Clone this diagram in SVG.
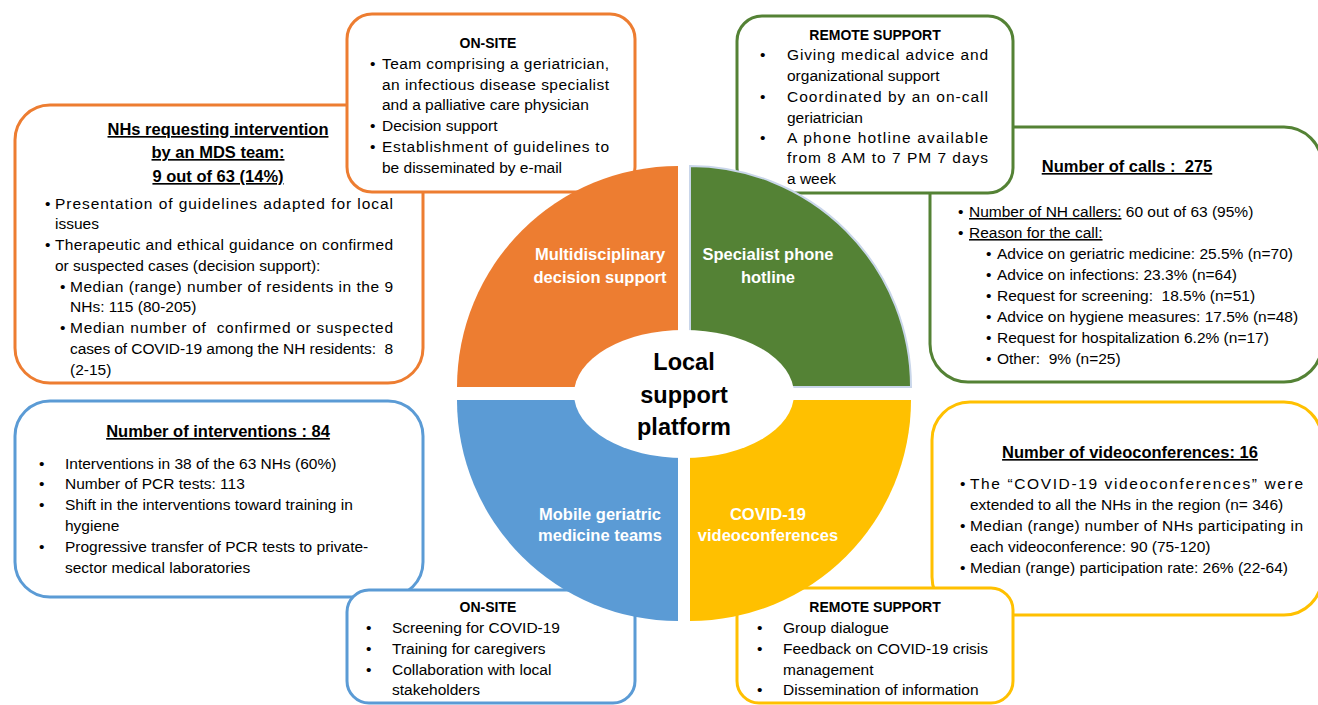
<svg xmlns="http://www.w3.org/2000/svg" width="1318" height="705" viewBox="0 0 1318 705">
<style>
text{font-family:"Liberation Sans",Arial,sans-serif;fill:#000;white-space:pre}
.b{font-size:15.5px}
.h{font-size:14px;font-weight:bold;text-anchor:middle}
.t{font-size:16.5px;font-weight:bold;text-anchor:middle;text-decoration:underline}
.q{font-size:16.5px;font-weight:bold;fill:#fff;text-anchor:middle}
.c{font-size:23.5px;font-weight:bold;text-anchor:middle}
.box{fill:#fff;stroke-width:3}
.or{stroke:#ED7D31}.gr{stroke:#548235}.bl{stroke:#5B9BD5}.ye{stroke:#FFC000}
</style>
<rect width="1318" height="705" fill="#fff"/>

<g id="nhs-requesting">
<rect class="box or" x="15" y="105" width="408" height="278" rx="35"/>
<text class="t" x="218" y="135">NHs requesting intervention</text>
<text class="t" x="218" y="158">by an MDS team:</text>
<text class="t" x="218" y="182">9 out of 63 (14%)</text>
<text class="b" x="45" y="209">•</text>
<text class="b" x="55" y="209" textLength="338" lengthAdjust="spacing">Presentation of guidelines adapted for local</text>
<text class="b" x="55" y="229">issues</text>
<text class="b" x="45" y="250">•</text>
<text class="b" x="55" y="250" textLength="338" lengthAdjust="spacing">Therapeutic and ethical guidance on confirmed</text>
<text class="b" x="55" y="271">or suspected cases (decision support):</text>
<text class="b" x="60" y="292">•</text>
<text class="b" x="70" y="292" textLength="323" lengthAdjust="spacing">Median (range) number of residents in the 9</text>
<text class="b" x="70" y="312">NHs: 115 (80-205)</text>
<text class="b" x="60" y="333">•</text>
<text class="b" x="70" y="333" textLength="323" lengthAdjust="spacing">Median number of  confirmed or suspected</text>
<text class="b" x="70" y="354" textLength="323" lengthAdjust="spacing">cases of COVID-19 among the NH residents:  8</text>
<text class="b" x="70" y="375">(2-15)</text>
</g>

<g id="onsite-mds">
<rect class="box or" x="347" y="14" width="288" height="178" rx="25"/>
<text class="h" x="488" y="48">ON-SITE</text>
<text class="b" x="370" y="69">•</text>
<text class="b" x="382" y="69" textLength="227" lengthAdjust="spacing">Team comprising a geriatrician,</text>
<text class="b" x="382" y="90" textLength="227" lengthAdjust="spacing">an infectious disease specialist</text>
<text class="b" x="382" y="110">and a palliative care physician</text>
<text class="b" x="370" y="131">•</text>
<text class="b" x="382" y="131">Decision support</text>
<text class="b" x="370" y="152">•</text>
<text class="b" x="382" y="152" textLength="227" lengthAdjust="spacing">Establishment of guidelines to</text>
<text class="b" x="382" y="173">be disseminated by e-mail</text>
</g>

<g id="number-of-calls">
<rect class="box gr" x="930" y="127" width="392" height="255" rx="38"/>
<text class="t" x="1127" y="172">Number of calls :  275</text>
<text class="b" x="958" y="217">•</text>
<text class="b" x="969" y="217"><tspan text-decoration="underline">Number of NH callers:</tspan> 60 out of 63 (95%)</text>
<text class="b" x="958" y="238">•</text>
<text class="b" x="969" y="238" text-decoration="underline">Reason for the call:</text>
<text class="b" x="986" y="259">•</text>
<text class="b" x="997" y="259">Advice on geriatric medicine: 25.5% (n=70)</text>
<text class="b" x="986" y="280">•</text>
<text class="b" x="997" y="280">Advice on infections: 23.3% (n=64)</text>
<text class="b" x="986" y="301">•</text>
<text class="b" x="997" y="301">Request for screening:  18.5% (n=51)</text>
<text class="b" x="986" y="322">•</text>
<text class="b" x="997" y="322">Advice on hygiene measures: 17.5% (n=48)</text>
<text class="b" x="986" y="343">•</text>
<text class="b" x="997" y="343">Request for hospitalization 6.2% (n=17)</text>
<text class="b" x="986" y="364">•</text>
<text class="b" x="997" y="364">Other:  9% (n=25)</text>
</g>

<g id="remote-hotline">
<rect class="box gr" x="737" y="16" width="276" height="177" rx="25"/>
<text class="h" x="875" y="40">REMOTE SUPPORT</text>
<text class="b" x="760" y="60">•</text>
<text class="b" x="787" y="60" textLength="201" lengthAdjust="spacing">Giving medical advice and</text>
<text class="b" x="787" y="81">organizational support</text>
<text class="b" x="760" y="102">•</text>
<text class="b" x="787" y="102" textLength="201" lengthAdjust="spacing">Coordinated by an on-call</text>
<text class="b" x="787" y="123">geriatrician</text>
<text class="b" x="760" y="143">•</text>
<text class="b" x="787" y="143" textLength="201" lengthAdjust="spacing">A phone hotline available</text>
<text class="b" x="787" y="163" textLength="201" lengthAdjust="spacing">from 8 AM to 7 PM 7 days</text>
<text class="b" x="787" y="184">a week</text>
</g>

<g id="number-of-interventions">
<rect class="box bl" x="15" y="401" width="408" height="196" rx="35"/>
<text class="t" x="218" y="437">Number of interventions : 84</text>
<text class="b" x="39" y="469">•</text>
<text class="b" x="65" y="469">Interventions in 38 of the 63 NHs (60%)</text>
<text class="b" x="39" y="489">•</text>
<text class="b" x="65" y="489">Number of PCR tests: 113</text>
<text class="b" x="39" y="510">•</text>
<text class="b" x="65" y="510">Shift in the interventions toward training in</text>
<text class="b" x="65" y="531">hygiene</text>
<text class="b" x="39" y="552">•</text>
<text class="b" x="65" y="552">Progressive transfer of PCR tests to private-</text>
<text class="b" x="65" y="573">sector medical laboratories</text>
</g>

<g id="onsite-mobile">
<rect class="box bl" x="347" y="590" width="288" height="113" rx="22"/>
<text class="h" x="488" y="612">ON-SITE</text>
<text class="b" x="366" y="633">•</text>
<text class="b" x="392" y="633">Screening for COVID-19</text>
<text class="b" x="366" y="654">•</text>
<text class="b" x="392" y="654">Training for caregivers</text>
<text class="b" x="366" y="675">•</text>
<text class="b" x="392" y="675">Collaboration with local</text>
<text class="b" x="392" y="695">stakeholders</text>
</g>

<g id="number-of-videoconferences">
<rect class="box ye" x="932" y="402" width="390" height="213" rx="38"/>
<text class="t" x="1130" y="458">Number of videoconferences: 16</text>
<text class="b" x="960" y="489">•</text>
<text class="b" x="970" y="489" textLength="333" lengthAdjust="spacing">The “COVID-19 videoconferences” were</text>
<text class="b" x="970" y="510">extended to all the NHs in the region (n= 346)</text>
<text class="b" x="960" y="531">•</text>
<text class="b" x="970" y="531" textLength="333" lengthAdjust="spacing">Median (range) number of NHs participating in</text>
<text class="b" x="970" y="552">each videoconference: 90 (75-120)</text>
<text class="b" x="960" y="573">•</text>
<text class="b" x="970" y="573">Median (range) participation rate: 26% (22-64)</text>
</g>

<g id="remote-videoconf">
<rect class="box ye" x="737" y="588" width="276" height="115" rx="22"/>
<text class="h" x="875" y="612">REMOTE SUPPORT</text>
<text class="b" x="757" y="633">•</text>
<text class="b" x="783" y="633">Group dialogue</text>
<text class="b" x="757" y="654">•</text>
<text class="b" x="783" y="654">Feedback on COVID-19 crisis</text>
<text class="b" x="783" y="675">management</text>
<text class="b" x="757" y="695">•</text>
<text class="b" x="783" y="695">Dissemination of information</text>
</g>

<g id="platform">
<g id="q-mds">
<path d="M678,387 L457,387 A221,221 0 0 1 678,166 Z" fill="#ED7D31"/>
<text class="q" x="600" y="260">Multidisciplinary</text>
<text class="q" x="600" y="283">decision support</text>
</g>
<g id="q-hotline">
<path d="M690,387 L690,166 A221,221 0 0 1 911,387 Z" fill="#548235" stroke="#C9D6EA" stroke-width="2"/>
<text class="q" x="768" y="260">Specialist phone</text>
<text class="q" x="768" y="283">hotline</text>
</g>
<g id="q-mobile">
<path d="M678,400 L678,621 A221,221 0 0 1 457,400 Z" fill="#5B9BD5"/>
<text class="q" x="600" y="520">Mobile geriatric</text>
<text class="q" x="600" y="541">medicine teams</text>
</g>
<g id="q-video">
<path d="M690,400 L911,400 A221,221 0 0 1 690,621 Z" fill="#FFC000"/>
<text class="q" x="768" y="520">COVID-19</text>
<text class="q" x="768" y="541">videoconferences</text>
</g>
<g id="center">
<ellipse cx="684" cy="394" rx="110" ry="64" fill="#fff"/>
<text class="c" x="684" y="370">Local</text>
<text class="c" x="684" y="403">support</text>
<text class="c" x="684" y="435">platform</text>
</g>
</g>
<g id="connectors"/>
</svg>
